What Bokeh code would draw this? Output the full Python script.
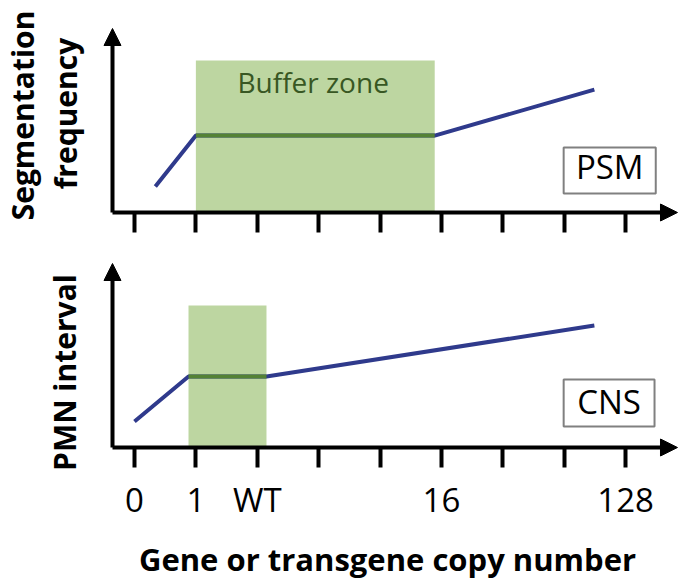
from bokeh.plotting import figure
from bokeh.layouts import column
from bokeh.models import Range1d, FixedTicker, Arrow, NormalHead, Label
from bokeh.core.properties import value
from bokeh.embed import file_html
from bokeh.resources import INLINE

# ---- data (x = copy-number step on a log2-like axis: 0, 1, WT(2), 4, 8, 16, 32, 64, 128) ----
tick_pos = [0, 1, 2, 3, 4, 5, 6, 7, 8]
tick_labels = ["0", "1", "WT", "", "", "16", "", "", "128"]

# PSM panel (segmentation frequency)
psm_x = [0.34, 1.0, 4.89, 7.49]
psm_y = [1.41, 4.18, 4.18, 6.68]
psm_zone_x = [1.0, 4.89]
psm_zone_top = 8.26

# CNS panel (PMN interval)
cns_x = [0.0, 0.88, 2.15, 7.49]
cns_y = [1.41, 3.86, 3.86, 6.63]
cns_zone_x = [0.88, 2.15]
cns_zone_top = 7.72

FONT = "Open Sans"
BLUE = "#2F3A8C"
GREEN_FILL = "#BDD6A1"
GREEN_LINE = "#548235"
GREEN_TEXT = "#385723"

W = 680
H_TOP, H_BOT = 247, 333
X_LO, X_HI = -2.182, 8.893      # visible x span (whole canvas width)
AXIS_X = -0.358                 # where the y axis stands
TIP_X = 8.844                   # x-axis arrow tip
TIP_Y = 10.0                    # y-axis arrow tip


def make_panel(height, y_lo, y_hi, xs, ys, zone_x, zone_top, tag, tag_box, tag_y, show_labels):
    p = figure(width=W, height=height, x_range=Range1d(X_LO, X_HI), y_range=Range1d(y_lo, y_hi),
               output_backend="svg", toolbar_location=None,
               min_border_left=0, min_border_right=0, min_border_top=0, min_border_bottom=0)
    p.grid.visible = False
    p.outline_line_color = None
    p.background_fill_color = "white"
    p.border_fill_color = "white"

    # buffer zone
    p.quad(left=zone_x[0], right=zone_x[1], bottom=0, top=zone_top,
           fill_color=GREEN_FILL, line_color=None)
    # response curve
    p.line(xs, ys, line_color=BLUE, line_width=4)
    p.line(xs[1:3], ys[1:3], line_color=GREEN_LINE, line_width=4)

    # tissue tag box
    p.quad(left=tag_box[0], right=tag_box[1], top=tag_box[2], bottom=tag_box[3],
           fill_color="white", line_color="#808080", line_width=2)
    p.text(x=[(tag_box[0] + tag_box[1]) / 2], y=[tag_y], text=[tag],
           text_font=value(FONT), text_font_size="33px", text_color="black",
           text_align="center", text_baseline="alphabetic")

    # x axis (fixed at y = 0)
    xa = p.xaxis[0]
    xa.fixed_location = 0
    xa.ticker = FixedTicker(ticks=tick_pos)
    xa.major_label_overrides = {t: (l if show_labels else "") for t, l in zip(tick_pos, tick_labels)}
    xa.axis_line_width = 4
    xa.axis_line_color = "black"
    xa.major_tick_line_width = 4
    xa.major_tick_line_color = "black"
    xa.major_tick_out = 20
    xa.major_tick_in = 0
    xa.minor_tick_out = 0
    xa.minor_tick_in = 0
    xa.bounds = (AXIS_X, 8.6)
    xa.major_label_text_font = FONT
    xa.major_label_text_font_size = "33px"
    xa.major_label_text_color = "black"
    xa.major_label_standoff = 9

    # y axis (fixed at x = AXIS_X)
    ya = p.yaxis[0]
    ya.fixed_location = AXIS_X
    ya.ticker = FixedTicker(ticks=[])
    ya.axis_line_width = 4
    ya.axis_line_color = "black"
    ya.major_tick_out = 0
    ya.major_tick_in = 0
    ya.minor_tick_out = 0
    ya.minor_tick_in = 0
    ya.major_label_text_font_size = "0px"
    ya.bounds = (0, 9.6)

    head = dict(size=17, fill_color="black", line_color="black", line_width=1)
    p.add_layout(Arrow(end=NormalHead(**head), x_start=8.4, y_start=0, x_end=TIP_X, y_end=0,
                       line_alpha=0, line_width=0))
    p.add_layout(Arrow(end=NormalHead(**head), x_start=AXIS_X, y_start=9.0, x_end=AXIS_X, y_end=TIP_Y,
                       line_alpha=0, line_width=0))
    return p


top = make_panel(H_TOP, -1.902, 11.522, psm_x, psm_y, psm_zone_x, psm_zone_top,
                 "PSM", [6.99, 8.49, 3.53, 1.03], 2.5, False)
top.text(x=[2.91], y=[7.09], text=["Buffer zone"], text_font=value(FONT), text_font_size="28px",
         text_color=GREEN_TEXT, text_align="center", text_baseline="alphabetic")
for txt, sx, sy in [("Segmentation", 22, 132), ("frequency", 65, 134)]:
    top.add_layout(Label(x=sx, y=sy, x_units="screen", y_units="screen", text=txt, angle=1.5708,
                         text_font=FONT, text_font_style="bold", text_font_size="30px",
                         text_color="black", text_align="center", text_baseline="alphabetic"))

bottom = make_panel(H_BOT, -7.228, 10.87, cns_x, cns_y, cns_zone_x, cns_zone_top,
                    "CNS", [6.99, 8.47, 3.70, 1.14], 2.5, True)
bottom.add_layout(Label(x=64, y=208, x_units="screen", y_units="screen", text="PMN interval",
                        angle=1.5708, text_font=FONT, text_font_style="bold", text_font_size="30px",
                        text_color="black", text_align="center", text_baseline="alphabetic"))
xa = bottom.xaxis[0]
xa.axis_label = "Gene or transgene copy number"
xa.axis_label_text_font = FONT
xa.axis_label_text_font_style = "bold"
xa.axis_label_text_font_size = "31px"
xa.axis_label_text_color = "black"
xa.axis_label_standoff = 13

layout = column(top, bottom, spacing=0)
open("out.html", "w").write(file_html(layout, INLINE))
